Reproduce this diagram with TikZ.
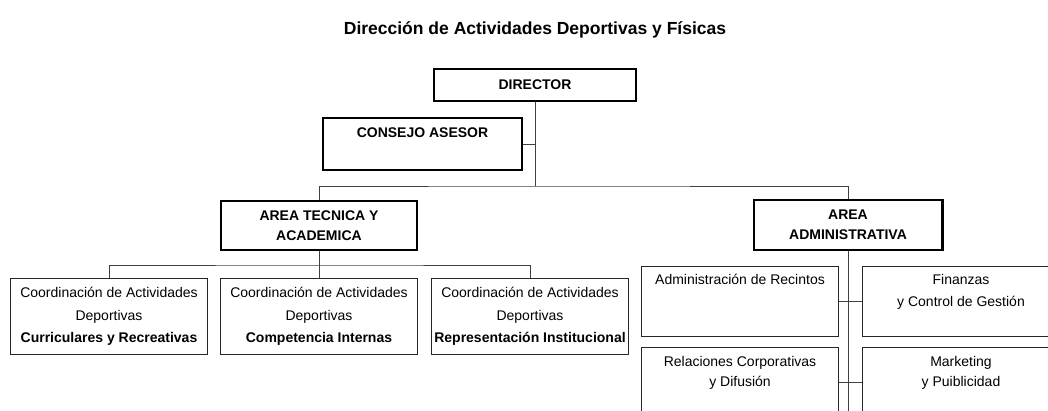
\documentclass[tikz,border=0pt]{standalone}
\usepackage{fontspec}
\setmainfont{Liberation Sans}
\usetikzlibrary{positioning}

\begin{document}
\begin{tikzpicture}[x=1pt, y=-1pt,
    every node/.style={font=\fontsize{14}{22.5}\selectfont},
    headbox/.style={draw, line width=2.4pt, align=center, inner sep=0,
      font=\fontsize{14}{20}\selectfont\bfseries},
    unitbox/.style={draw=black!85, line width=0.8pt, align=center, inner sep=0},
    boxtext/.style={align=center, inner sep=0},
    link/.style={draw=black!75, line width=0.9pt}]
  \useasboundingbox (0, 0) rectangle (1048, 411);

  \node[font=\fontsize{17.5}{20}\selectfont\bfseries]
    (title) at (535, 30) {Dirección de Actividades Deportivas y Físicas};

  \node[headbox, minimum width=201.6pt, minimum height=31.6pt]
    (dir) at (535, 85) {DIRECTOR};

  \node[headbox, minimum width=198.6pt, minimum height=51.6pt]
    (cons) at (422.5, 144) {};
  \node[boxtext, font=\fontsize{14}{20}\selectfont\bfseries, below=11pt of cons.north]
    (cons-t) {CONSEJO ASESOR};

  \node[headbox, minimum width=195.6pt, minimum height=48.6pt]
    (tec) at (319, 225.5) {AREA TECNICA Y\\ACADEMICA};

  \node[headbox, minimum width=188.6pt, minimum height=49.6pt]
    (adm) at (848, 225) {AREA\\ADMINISTRATIVA};

  % coordinacion
  \node[unitbox, minimum width=197.2pt, minimum height=76.2pt]
    (cur) at (109, 316.5)
    {Coordinación de Actividades\\Deportivas\\\textbf{Curriculares y Recreativas}};

  \node[unitbox, minimum width=197.2pt, minimum height=76.2pt]
    (com) at (319, 316.5)
    {Coordinación de Actividades\\Deportivas\\\textbf{Competencia Internas}};

  \node[unitbox, minimum width=197.2pt, minimum height=76.2pt]
    (rep) at (530, 316.5)
    {Coordinación de Actividades\\Deportivas\\\textbf{Representación Institucional}};

  % administracion
  \node[unitbox, minimum width=197.2pt, minimum height=70.2pt]
    (rec) at (740, 301.5) {};
  \node[boxtext, below=8pt of rec.north]
    (rec-t) {Administración de Recintos};

  \node[unitbox, minimum width=197.2pt, minimum height=70.2pt]
    (fin) at (961, 301.5) {};
  \node[boxtext, font=\fontsize{14}{22}\selectfont, below=8pt of fin.north]
    (fin-t) {Finanzas\\y Control de Gestión};

  \node[unitbox, minimum width=197.2pt, minimum height=70.2pt]
    (rel) at (740, 382.5) {};
  \node[boxtext, font=\fontsize{14}{20}\selectfont, below=9pt of rel.north]
    (rel-t) {Relaciones Corporativas\\y Difusión};

  \node[unitbox, minimum width=197.2pt, minimum height=70.2pt]
    (mkt) at (961, 382.5) {};
  \node[boxtext, font=\fontsize{14}{20}\selectfont, below=9pt of mkt.north]
    (mkt-t) {Marketing\\y Puiblicidad};

  \coordinate (hub) at (535, 186);
  \coordinate (split) at (319, 265);
  \coordinate (tail) at (848, 420);

  \draw[link]
    (dir)        -- (hub)
    (cons.east)  -- (cons.east -| hub)
    (tec.north)  |- (hub) -| (adm.north);

  \draw[link]
    (tec)        -- (com)
    (cur.north)  |- (split) -| (rep.north);

  \draw[link]
    (adm.south)  -- (tail)
    (rec)        -- (fin)
    (rel)        -- (mkt);
\end{tikzpicture}
\end{document}
